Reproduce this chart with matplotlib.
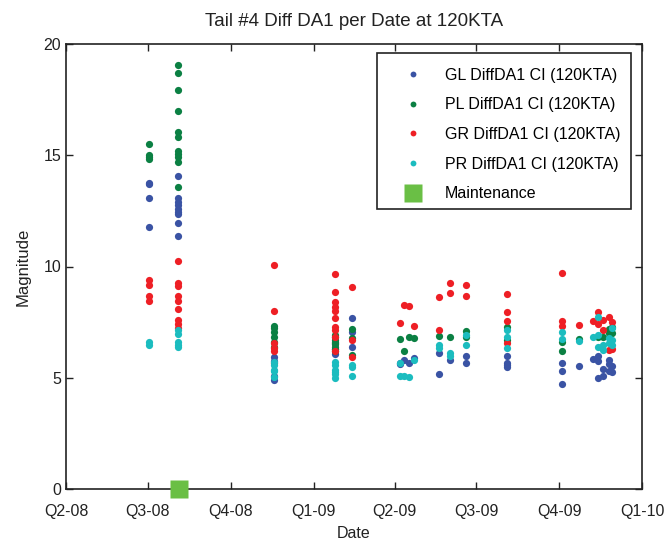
import matplotlib
matplotlib.use("Agg")
import matplotlib.pyplot as plt
from matplotlib.lines import Line2D
from matplotlib.patches import Rectangle
from datetime import datetime

plt.rcParams['font.family'] = ['Liberation Sans', 'DejaVu Sans']

# cluster dates
D = {
    'A': '2008-07-02', 'B': '2008-08-03', 'C': '2008-11-18', 'D': '2009-01-25',
    'E': '2009-02-13', 'F': '2009-04-07', 'G': '2009-04-12', 'H': '2009-04-17',
    'I': '2009-04-23', 'J': '2009-05-20', 'K': '2009-06-02', 'L': '2009-06-19',
    'N': '2009-08-04', 'O': '2009-10-04', 'P': '2009-10-23', 'Q': '2009-11-08',
    'R': '2009-11-13', 'S': '2009-11-19', 'T': '2009-11-25', 'U': '2009-11-29',
}
maintenance_dates = ['2008-08-04']
maintenance_vals = [0]

gl_data = {
    'A': [13.77, 13.7, 13.1, 11.78],
    'B': [14.08, 13.06, 12.91, 12.76, 12.6, 12.46, 12.36, 11.94, 11.36],
    'C': [5.95, 5.77, 4.9, 5.1],
    'D': [6.85, 6.55, 6.07, 6.3],
    'E': [7.67, 7.06, 6.4],
    'F': [5.6, 5.68], 'G': [5.8], 'H': [5.68], 'I': [5.87],
    'J': [6.13, 5.17], 'K': [5.8], 'L': [5.98, 5.66],
    'N': [5.98, 5.68, 5.57, 5.5],
    'O': [5.68, 5.32, 4.72], 'P': [5.54], 'Q': [5.84],
    'R': [6.0, 5.75, 4.97], 'S': [5.38, 5.08], 'T': [5.8, 5.6, 5.3], 'U': [5.55, 5.25],
}
pl_data = {
    'A': [15.5, 15.0, 14.9, 14.85],
    'B': [19.07, 18.71, 17.93, 16.99, 16.04, 15.8, 15.2, 15.06, 14.94, 14.68, 13.56],
    'C': [7.34, 7.22, 7.07, 6.85, 6.62, 6.4],
    'D': [6.9, 6.7, 6.6, 6.5, 6.4, 6.3, 6.2],
    'E': [7.19, 6.79, 6.02],
    'F': [6.73], 'G': [6.2], 'H': [6.85], 'I': [6.79],
    'J': [6.88], 'K': [6.85], 'L': [7.1, 6.85],
    'N': [7.27, 6.7],
    'O': [6.62, 6.2], 'P': [6.74],
    'R': [6.85], 'S': [6.82], 'T': [7.2, 7.0], 'U': [7.27, 7.03],
}
gr_data = {
    'A': [9.39, 9.17, 8.69, 8.46],
    'B': [10.23, 9.24, 9.12, 8.69, 8.45, 8.09, 7.6, 7.42, 7.22],
    'C': [10.07, 7.99, 6.55, 6.33, 6.18, 5.65],
    'D': [9.65, 8.87, 8.39, 8.17, 8.02, 7.67, 7.27, 7.15, 6.85, 6.22],
    'E': [9.09, 6.7, 5.95],
    'F': [7.45], 'G': [8.28], 'H': [8.22], 'I': [7.33],
    'J': [8.64, 7.15], 'K': [9.24, 8.81], 'L': [9.17, 8.69],
    'N': [8.75, 7.97, 7.57, 6.58],
    'O': [9.69, 7.55, 7.34], 'P': [7.37], 'Q': [7.57],
    'R': [7.94, 7.42], 'S': [7.6, 7.15], 'T': [7.74, 6.25], 'U': [7.52, 6.3],
}
pr_data = {
    'A': [6.59, 6.47],
    'B': [7.15, 6.97, 6.62, 6.47, 6.4],
    'C': [5.72, 5.57, 5.35, 5.05, 5.3],
    'D': [5.72, 5.57, 5.37, 5.27, 5.17, 5.0],
    'E': [5.57, 5.47, 5.08],
    'F': [5.68, 5.09], 'G': [5.09], 'H': [5.02], 'I': [5.8],
    'J': [6.47, 6.32], 'K': [6.1, 6.0], 'L': [6.92, 6.47],
    'N': [7.15, 6.82, 6.32],
    'O': [7.04, 6.74], 'P': [6.67], 'Q': [6.85],
    'R': [7.72, 6.9, 6.4], 'S': [6.47, 6.25], 'T': [6.77, 6.55], 'U': [7.24, 6.7, 6.47],
}

series = [
    ('GL DiffDA1 CI (120KTA)', gl_data, '#3a53a4'),
    ('PL DiffDA1 CI (120KTA)', pl_data, '#0b8043'),
    ('GR DiffDA1 CI (120KTA)', gr_data, '#ee1f25'),
    ('PR DiffDA1 CI (120KTA)', pr_data, '#1bbcbf'),
]

quarter_labels = ['Q2-08', 'Q3-08', 'Q4-08', 'Q1-09', 'Q2-09', 'Q3-09', 'Q4-09', 'Q1-10']
quarter_dates = ['2008-04-01', '2008-07-01', '2008-10-01', '2009-01-01',
                 '2009-04-01', '2009-07-01', '2009-10-01', '2010-01-01']

def to_dt(s):
    return datetime.strptime(s, '%Y-%m-%d')

fig = plt.figure(figsize=(6.65, 5.43), dpi=100)
ax = fig.add_axes([66/665, 1-489/543, 576/665, 445/543])

for label, data, color in series:
    xs, ys = [], []
    for k, vals in data.items():
        for v in vals:
            xs.append(to_dt(D[k]))
            ys.append(v)
    ax.plot(xs, ys, 'o', color=color, ms=5.2, mec='none', ls='none')

ax.plot([to_dt(d) for d in maintenance_dates], maintenance_vals, 's', color='#6abf45',
        ms=12.5, mec='none', clip_on=False, zorder=5)

qd = [to_dt(d) for d in quarter_dates]
ax.set_xlim(qd[0], qd[-1])
ax.set_xticks(qd)
ax.set_xticklabels(quarter_labels)
ax.set_ylim(0, 20)
ax.set_yticks([0, 5, 10, 15, 20])
ax.tick_params(direction='in', top=True, right=True, labelsize=11.5, length=5, width=1,
               colors='#222222')
ax.tick_params(axis='x', pad=10.5)
for sp in ax.spines.values():
    sp.set_linewidth(1.2)
    sp.set_color('#222222')

ax.set_title('Tail #4 Diff DA1 per Date at 120KTA', fontsize=13.5, pad=13, color='#222222')
ax.set_xlabel('Date', fontsize=11.5, labelpad=5, color='#222222')
ax.set_ylabel('Magnitude', fontsize=12, labelpad=9, color='#222222')

# legend box
box = Rectangle(((377-66)/576, (489-209)/445), (631-377)/576, (209-53)/445,
                transform=ax.transAxes, facecolor='white', edgecolor='#222222',
                linewidth=1.2, zorder=6)
ax.add_patch(box)

handles = [Line2D([], [], ls='none', marker='o', ms=4.2, color=c, mec='none') for _, _, c in series]
handles.append(Line2D([], [], ls='none', marker='s', ms=13, color='#6abf45', mec='none'))
labels = [s[0] for s in series] + ['Maintenance']
leg = ax.legend(handles, labels, loc='upper right', bbox_to_anchor=(0.979, 0.9685),
                borderaxespad=0, fontsize=11.5, frameon=False,
                labelspacing=0.92, handlelength=3.5, handletextpad=0.25, borderpad=0.6)
leg.set_zorder(7)

fig.savefig('out.png', dpi=100)
